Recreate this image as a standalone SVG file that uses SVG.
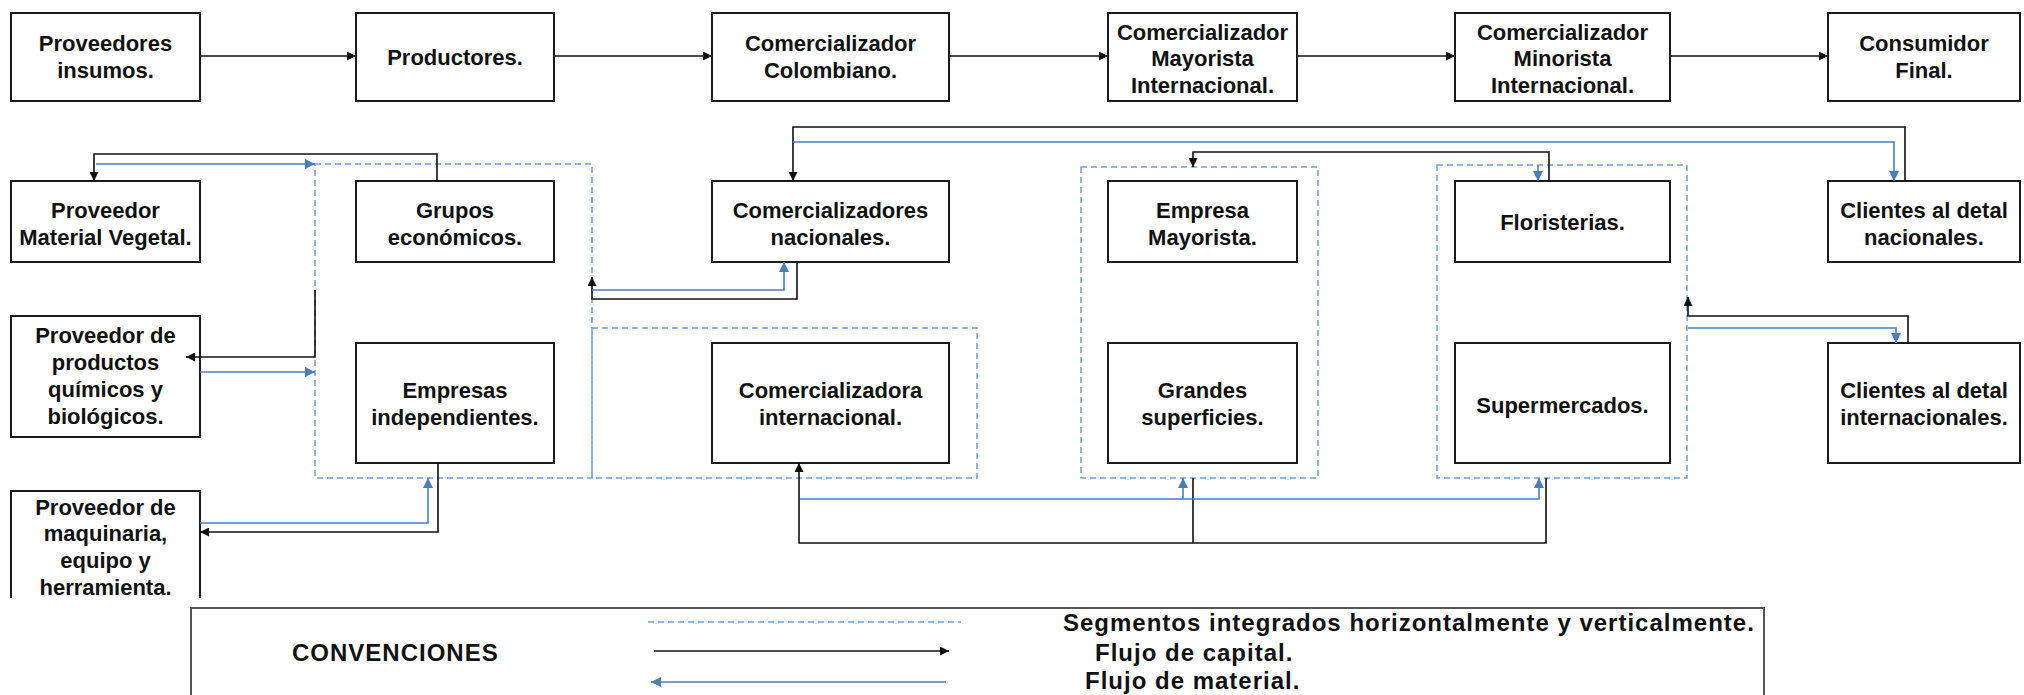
<svg xmlns="http://www.w3.org/2000/svg" width="2024" height="695" viewBox="0 0 2024 695">
<defs>
<style>
.box{fill:#fff;stroke:#1a1a1a;stroke-width:2}
.t{font-family:"Liberation Sans",Arial,sans-serif;font-weight:bold;font-size:22px;fill:#111;text-anchor:middle}
.lg{font-family:"Liberation Sans",Arial,sans-serif;font-weight:bold;font-size:24px;fill:#111;letter-spacing:1px}
.k{fill:none;stroke:#111;stroke-width:1.6}
.b{fill:none;stroke:#4a7ebb;stroke-width:1.6}
.grp{fill:none;stroke:#6f9fd6;stroke-width:1.5;stroke-dasharray:6 4}
</style>
<marker id="ak" viewBox="0 0 10 10" refX="10" refY="5" markerWidth="9" markerHeight="9" markerUnits="userSpaceOnUse" orient="auto"><path d="M0,0 L10,5 L0,10 z" fill="#111"/></marker>
<marker id="ab" viewBox="0 0 10 10" refX="10" refY="5" markerWidth="10" markerHeight="10" markerUnits="userSpaceOnUse" orient="auto"><path d="M0,0 L10,5 L0,10 z" fill="#4a7ebb"/></marker>
</defs>
<rect width="2024" height="695" fill="#fff"/>

<g id="groups">
<rect id="g1" class="grp" x="315" y="164" width="277" height="314"/>
<rect id="g2" class="grp" x="592" y="328" width="385" height="150"/>
<rect id="g3" class="grp" x="1081" y="167" width="237" height="311"/>
<rect id="g4" class="grp" x="1437" y="165" width="250" height="313"/>
</g>

<g id="n1"><rect class="box" x="11" y="13" width="189" height="88"/><text class="t" x="105.5" y="51">Proveedores</text><text class="t" x="105.5" y="78">insumos.</text></g>
<g id="n2"><rect class="box" x="356" y="13" width="198" height="88"/><text class="t" x="455" y="65">Productores.</text></g>
<g id="n3"><rect class="box" x="712" y="13" width="237" height="88"/><text class="t" x="830.5" y="51">Comercializador</text><text class="t" x="830.5" y="78">Colombiano.</text></g>
<g id="n4"><rect class="box" x="1108" y="13" width="189" height="88"/><text class="t" x="1202.5" y="40">Comercializador</text><text class="t" x="1202.5" y="66">Mayorista</text><text class="t" x="1202.5" y="93">Internacional.</text></g>
<g id="n5"><rect class="box" x="1455" y="13" width="215" height="88"/><text class="t" x="1562.5" y="40">Comercializador</text><text class="t" x="1562.5" y="66">Minorista</text><text class="t" x="1562.5" y="93">Internacional.</text></g>
<g id="n6"><rect class="box" x="1828" y="13" width="192" height="88"/><text class="t" x="1924" y="51">Consumidor</text><text class="t" x="1924" y="78">Final.</text></g>

<g id="n7"><rect class="box" x="11" y="181" width="189" height="81"/><text class="t" x="105.5" y="218">Proveedor</text><text class="t" x="105.5" y="245">Material Vegetal.</text></g>
<g id="n8"><rect class="box" x="356" y="181" width="198" height="81"/><text class="t" x="455" y="218">Grupos</text><text class="t" x="455" y="245">económicos.</text></g>
<g id="n9"><rect class="box" x="712" y="181" width="237" height="81"/><text class="t" x="830.5" y="218">Comercializadores</text><text class="t" x="830.5" y="245">nacionales.</text></g>
<g id="n10"><rect class="box" x="1108" y="181" width="189" height="81"/><text class="t" x="1202.5" y="218">Empresa</text><text class="t" x="1202.5" y="245">Mayorista.</text></g>
<g id="n11"><rect class="box" x="1455" y="181" width="215" height="81"/><text class="t" x="1562.5" y="230">Floristerias.</text></g>
<g id="n12"><rect class="box" x="1828" y="181" width="192" height="81"/><text class="t" x="1924" y="218">Clientes al detal</text><text class="t" x="1924" y="245">nacionales.</text></g>

<g id="n13"><rect class="box" x="11" y="316" width="189" height="121"/><text class="t" x="105.5" y="343">Proveedor de</text><text class="t" x="105.5" y="370">productos</text><text class="t" x="105.5" y="397">químicos y</text><text class="t" x="105.5" y="424">biológicos.</text></g>
<g id="n14"><rect class="box" x="356" y="343" width="198" height="120"/><text class="t" x="455" y="398">Empresas</text><text class="t" x="455" y="425">independientes.</text></g>
<g id="n15"><rect class="box" x="712" y="343" width="237" height="120"/><text class="t" x="830.5" y="398">Comercializadora</text><text class="t" x="830.5" y="425">internacional.</text></g>
<g id="n16"><rect class="box" x="1108" y="343" width="189" height="120"/><text class="t" x="1202.5" y="398">Grandes</text><text class="t" x="1202.5" y="425">superficies.</text></g>
<g id="n17"><rect class="box" x="1455" y="343" width="215" height="120"/><text class="t" x="1562.5" y="413">Supermercados.</text></g>
<g id="n18"><rect class="box" x="1828" y="343" width="192" height="120"/><text class="t" x="1924" y="398">Clientes al detal</text><text class="t" x="1924" y="425">internacionales.</text></g>

<g id="n19"><path d="M11,598 V491 H200 V598" fill="#fff" stroke="#1a1a1a" stroke-width="2"/><text class="t" x="105.5" y="515">Proveedor de</text><text class="t" x="105.5" y="541">maquinaria,</text><text class="t" x="105.5" y="568">equipo y</text><text class="t" x="105.5" y="595">herramienta.</text></g>

<g id="connectors">
<path class="k" d="M200,56 H356" marker-end="url(#ak)"/>
<path class="k" d="M554,56 H712" marker-end="url(#ak)"/>
<path class="k" d="M949,56 H1108" marker-end="url(#ak)"/>
<path class="k" d="M1297,56 H1455" marker-end="url(#ak)"/>
<path class="k" d="M1670,56 H1828" marker-end="url(#ak)"/>

<path class="k" d="M437,181 V154 H94 V181" marker-end="url(#ak)"/>
<path class="b" d="M96,164 H315" marker-end="url(#ab)"/>
<path class="k" d="M315,290 V357 H186" marker-end="url(#ak)"/>
<path class="b" d="M200,372 H315" marker-end="url(#ab)"/>
<path class="k" d="M438,463 V532 H200" marker-end="url(#ak)"/>
<path class="b" d="M200,523 H428 V478" marker-end="url(#ab)"/>

<path class="k" d="M797,262 V299 H592 V277" marker-end="url(#ak)"/>
<path class="b" d="M592,290 H784 V262" marker-end="url(#ab)"/>

<path class="k" d="M1905,181 V127 H793 V181" marker-end="url(#ak)"/>
<path class="b" d="M793,142 H1894 V181" marker-end="url(#ab)"/>
<path class="k" d="M1549,181 V152 H1193 V167" marker-end="url(#ak)"/>
<path class="b" d="M1538,165 V181" marker-end="url(#ab)"/>

<path class="k" d="M1908,343 V316 H1688 V297" marker-end="url(#ak)"/>
<path class="b" d="M1688,328 H1896 V343" marker-end="url(#ab)"/>

<path class="k" d="M1546,478 V543 H799 V463" marker-end="url(#ak)"/>
<path class="k" d="M1193,478 V543"/>
<path class="b" d="M800,499 H1539 V478" marker-end="url(#ab)"/>
<path class="b" d="M1183,499 V478" marker-end="url(#ab)"/>
</g>

<g id="legend">
<rect x="191" y="608" width="1573" height="100" fill="none" stroke="#555" stroke-width="2"/>
<text class="lg" x="292" y="661" letter-spacing="2">CONVENCIONES</text>
<line class="grp" x1="648" y1="622" x2="961" y2="622"/>
<path class="k" d="M654,651 H949" marker-end="url(#ak)"/>
<path class="b" d="M946,682 H651" marker-end="url(#ab)"/>
<text class="lg" x="1063" y="631">Segmentos integrados horizontalmente y verticalmente.</text>
<text class="lg" x="1095" y="661">Flujo de capital.</text>
<text class="lg" x="1085" y="689">Flujo de material.</text>
</g>
</svg>
